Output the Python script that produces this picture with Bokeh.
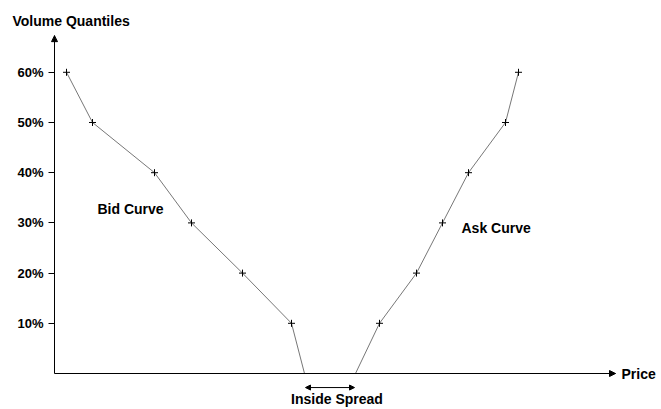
from bokeh.plotting import figure
from bokeh.models import (Range1d, LinearAxis, FixedTicker, Label, Arrow,
                          NormalHead)
from bokeh.embed import file_html
from bokeh.resources import INLINE

# ---- data (price in arbitrary units) ----
quantiles = [0, 10, 20, 30, 40, 50, 60]
bid_price = [250, 237, 188, 137, 100, 38, 12]
ask_price = [301, 325, 362, 388, 414, 451, 464]
tick_values = [10, 20, 30, 40, 50, 60]
tick_labels = ["10%", "20%", "30%", "40%", "50%", "60%"]

FONT = "Liberation Sans"
FS = "14px"
Y_TOP = 67.3      # top of the quantile axis (arrow tip)
X_END = 561       # end of price axis (arrow tip)

p = figure(width=661, height=409, output_backend="svg", toolbar_location=None,
           x_range=Range1d(-54, 607), y_range=Range1d(-7.17, 74.3),
           x_axis_type=None, y_axis_type=None,
           min_border=0, min_border_left=0, min_border_right=0,
           min_border_top=0, min_border_bottom=0)
p.outline_line_color = None
p.xgrid.visible = False
p.ygrid.visible = False
p.background_fill_color = "white"
p.border_fill_color = "white"

# y axis with percent ticks, drawn at price 0
yax = LinearAxis(ticker=FixedTicker(ticks=tick_values), fixed_location=0,
                 bounds=(0, Y_TOP),
                 major_label_overrides={v: l for v, l in zip(tick_values, tick_labels)})
yax.major_tick_out = 6
yax.major_tick_in = 0
yax.minor_tick_line_color = None
yax.major_tick_line_color = "black"
yax.axis_line_color = "black"
yax.major_label_text_font = FONT
yax.major_label_text_font_style = "bold"
yax.major_label_text_font_size = "13px"
yax.major_label_text_color = "black"
yax.major_label_standoff = 5
p.add_layout(yax, "left")

# x axis (line only), drawn at quantile 0
xax = LinearAxis(ticker=FixedTicker(ticks=[]), fixed_location=0,
                 bounds=(0, X_END))
xax.major_tick_line_color = None
xax.minor_tick_line_color = None
xax.major_label_text_font_size = "0px"
xax.axis_line_color = "black"
p.add_layout(xax, "below")

# arrow heads on axes
p.add_layout(Arrow(end=NormalHead(size=6, fill_color="black", line_color="black"),
                   x_start=0, y_start=60, x_end=0, y_end=Y_TOP,
                   line_color="black", line_width=1))
p.add_layout(Arrow(end=NormalHead(size=6, fill_color="black", line_color="black"),
                   x_start=500, y_start=0, x_end=X_END, y_end=0,
                   line_color="black", line_width=1))

# curves
for xs in (bid_price, ask_price):
    p.line(xs, quantiles, line_color="#777777", line_width=1)
    p.scatter(xs[1:], quantiles[1:], marker="cross", size=7,
              line_color="black", line_width=1)

# inside spread arrow
p.add_layout(Arrow(start=NormalHead(size=5, fill_color="black", line_color="black"),
                   end=NormalHead(size=5, fill_color="black", line_color="black"),
                   x_start=bid_price[0] + 1, y_start=-2.8,
                   x_end=ask_price[0] - 1, y_end=-2.8,
                   line_color="black", line_width=1))


def lab(x, y, t, align="left", baseline="middle"):
    p.add_layout(Label(x=x, y=y, text=t, text_font=FONT, text_font_style="bold",
                       text_font_size=FS, text_color="black",
                       text_align=align, text_baseline=baseline))


lab(-42, 70.3, "Volume Quantiles")
lab(567, 0, "Price")
lab(43, 32.7, "Bid Curve")
lab(407, 28.9, "Ask Curve")
lab((bid_price[0] + ask_price[0]) / 2 + 7, -6.75, "Inside Spread", align="center",
    baseline="bottom")

open("out.html", "w").write(file_html(p, INLINE))
